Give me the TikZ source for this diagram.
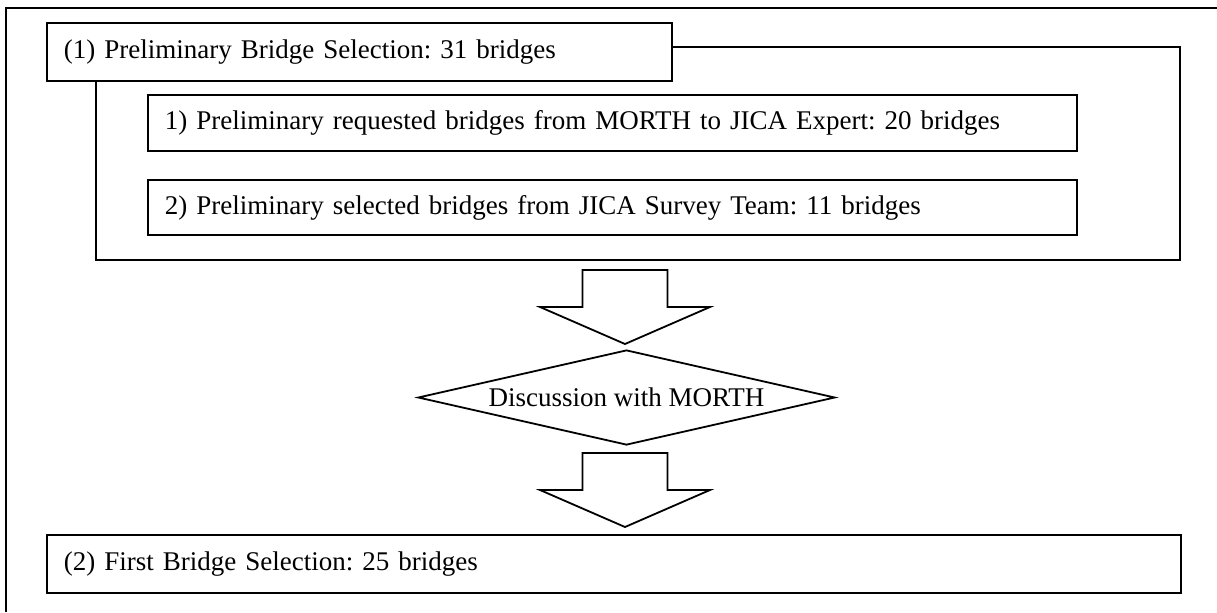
\documentclass[tikz,border=0pt]{standalone}
\usepackage{fontspec}
\setmainfont{Liberation Serif}
\usetikzlibrary{shapes.geometric}
\frenchspacing

\tikzset{
  box/.style={draw, line width=0.9pt, anchor=north west, inner xsep=8.5pt, inner ysep=0pt,
    align=left, font=\fontsize{13.5}{16}\selectfont},
  downarrow/.pic={\draw[line width=0.9pt] (-42.5,0) -- (42.5,0) -- (42.5,37) -- (85,37)
    -- (0,74) -- (-85,37) -- (-42.5,37) -- cycle;}
}

\begin{document}
\begin{tikzpicture}[x=0.5pt, y=-0.5pt, line width=0.9pt]
    \useasboundingbox (0,0) rectangle (1217,612);
    % outer frame
    \draw[line width=1.2pt] (1217,8) -- (6,8) -- (6,612);

    \node[box, text width=295.5pt, minimum height=29pt] (sel1) at (46,22) {(1) Preliminary Bridge Selection: 31 bridges};
    \node[box, text width=447.5pt, minimum height=28pt] (req) at (147,94) {1) Preliminary requested bridges from MORTH to JICA Expert: 20 bridges};
    \node[box, text width=447.5pt, minimum height=27.5pt] (pre) at (147,179) {2) Preliminary selected bridges from JICA Survey Team: 11 bridges};

    % bracket round 1) and 2)
    \coordinate (brTR) at (1180,47);
    \coordinate (brBR) at (1180,260);
    \coordinate (brBL) at (96,260);
    \draw (brTR -| sel1.east) -- (brTR) -- (brBR) -- (brBL) -- (brBL |- sel1.south);

    \pic at (625,270) {downarrow};
    \node[draw, diamond, aspect=4.4, inner sep=0pt, minimum width=208.5pt, minimum height=47.5pt,
      font=\fontsize{13.5}{16}\selectfont] (disc) at (626.5,397.5) {Discussion with MORTH};
    \pic at (625,453) {downarrow};

    \node[box, text width=550pt, minimum height=29pt] (sel2) at (46,534) {(2) First Bridge Selection: 25 bridges};
\end{tikzpicture}
\end{document}
